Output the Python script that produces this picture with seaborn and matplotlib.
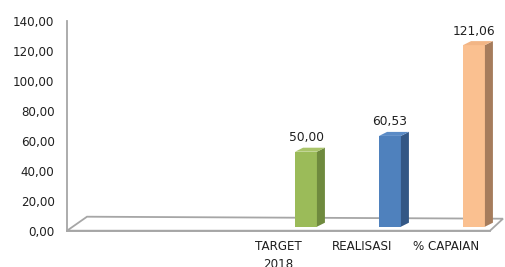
import matplotlib
matplotlib.use("Agg")
import matplotlib.pyplot as plt
import matplotlib.transforms as mtransforms
from matplotlib.patches import Polygon
import seaborn as sns
import pandas as pd

# ── Data ──────────────────────────────────────────────────────
categories = ["TARGET\n2018", "REALISASI", "% CAPAIAN"]
values     = [50.00, 60.53, 121.06]
value_text = ["50,00", "60,53", "121,06"]
y_ticks    = [0, 20, 40, 60, 80, 100, 120, 140]

front_colors = ["#9BBB59", "#4F81BD", "#FAC090"]
side_colors  = ["#6F8A3E", "#335785", "#A67C5C"]
top_colors   = ["#A9C46A", "#5A8BC6", "#F2B585"]

df = pd.DataFrame({"kategori": categories, "nilai": values})

sns.set_style("white")
plt.rcParams['font.family'] = ['DejaVu Sans']

W, H, DPI = 505, 267, 100
fig = plt.figure(figsize=(W / DPI, H / DPI), dpi=DPI)
ax = fig.add_axes([67 / W, (H - 230.7) / H, (490 - 67) / W, 210 / H])

sns.barplot(
    data       = df,
    x          = "kategori",
    y          = "nilai",
    hue        = "kategori",
    palette    = front_colors,
    saturation = 1,
    width      = 0.26,
    legend     = False,
    ax         = ax
)

ax.set_xlim(-(306 - 67) / 84, (490 - 306) / 84)
ax.set_ylim(0, 140)
ax.set_yticks(y_ticks)
ax.set_yticklabels([f"{t:.2f}".replace(".", ",") for t in y_ticks])
ax.set_xlabel("")
ax.set_ylabel("")

# ── Axis styling ──────────────────────────────────────────────
grey = "#A6A6A6"
for side in ["top", "right"]:
    ax.spines[side].set_visible(False)
for side in ["left", "bottom"]:
    ax.spines[side].set_color(grey)
    ax.spines[side].set_linewidth(1.3)
ax.tick_params(axis="both", length=0, labelsize=8.6, labelcolor="#1F1F1F")
ax.tick_params(axis="y", pad=9)
ax.tick_params(axis="x", pad=7)

# shift category labels left (3-D perspective look)
shift = mtransforms.ScaledTranslation(-28 / DPI, 0, fig.dpi_scale_trans)
for lbl in ax.get_xticklabels():
    lbl.set_transform(lbl.get_transform() + shift)
    lbl.set_linespacing(1.45)

# floor of the 3-D box
off_l = mtransforms.ScaledTranslation(20 / DPI, 14 / DPI, fig.dpi_scale_trans)
off_r = mtransforms.ScaledTranslation(13 / DPI, 12 / DPI, fig.dpi_scale_trans)
tl = ax.transAxes + off_l
tr = ax.transAxes + off_r
p0 = ax.transAxes.transform((0, 0))
p1 = ax.transAxes.transform((1, 0))
p2 = tr.transform((1, 0))
p3 = tl.transform((0, 0))
inv = ax.transAxes.inverted()
floor = Polygon(inv.transform([p0, p1, p2, p3]), closed=True, fill=False,
                edgecolor=grey, linewidth=1.3, transform=ax.transAxes,
                clip_on=False, zorder=0.5)
ax.add_patch(floor)

# ── 3-D bar faces ─────────────────────────────────────────────
fig.canvas.draw()
px_x = ax.transData.transform((1, 0))[0] - ax.transData.transform((0, 0))[0]
px_y = ax.transData.transform((0, 1))[1] - ax.transData.transform((0, 0))[1]
lift = 4 / px_y          # bars stand slightly behind the front edge
dx, dy = 8 / px_x, 4 / px_y

for i, bar in enumerate(ax.patches[:len(values)]):
    x0 = bar.get_x()
    w = bar.get_width()
    h = bar.get_height()
    bar.set_y(lift)
    bar.set_edgecolor("none")
    bar.set_zorder(3)
    x1 = x0 + w
    top = lift + h
    side = Polygon([(x1, lift), (x1 + dx, lift + dy), (x1 + dx, top + dy), (x1, top)],
                   closed=True, facecolor=side_colors[i], edgecolor="none",
                   zorder=3, clip_on=False)
    cap = Polygon([(x0, top), (x0 + dx, top + dy), (x1 + dx, top + dy), (x1, top)],
                  closed=True, facecolor=top_colors[i], edgecolor="none",
                  zorder=3, clip_on=False)
    ax.add_patch(side)
    ax.add_patch(cap)
    ax.annotate(value_text[i], (x0 + w / 2, top), xytext=(0, 14),
                textcoords="offset pixels", ha="center", va="center",
                fontsize=8.8, color="#1F1F1F", annotation_clip=False)

plt.savefig("out.png", dpi=DPI)
plt.close()
